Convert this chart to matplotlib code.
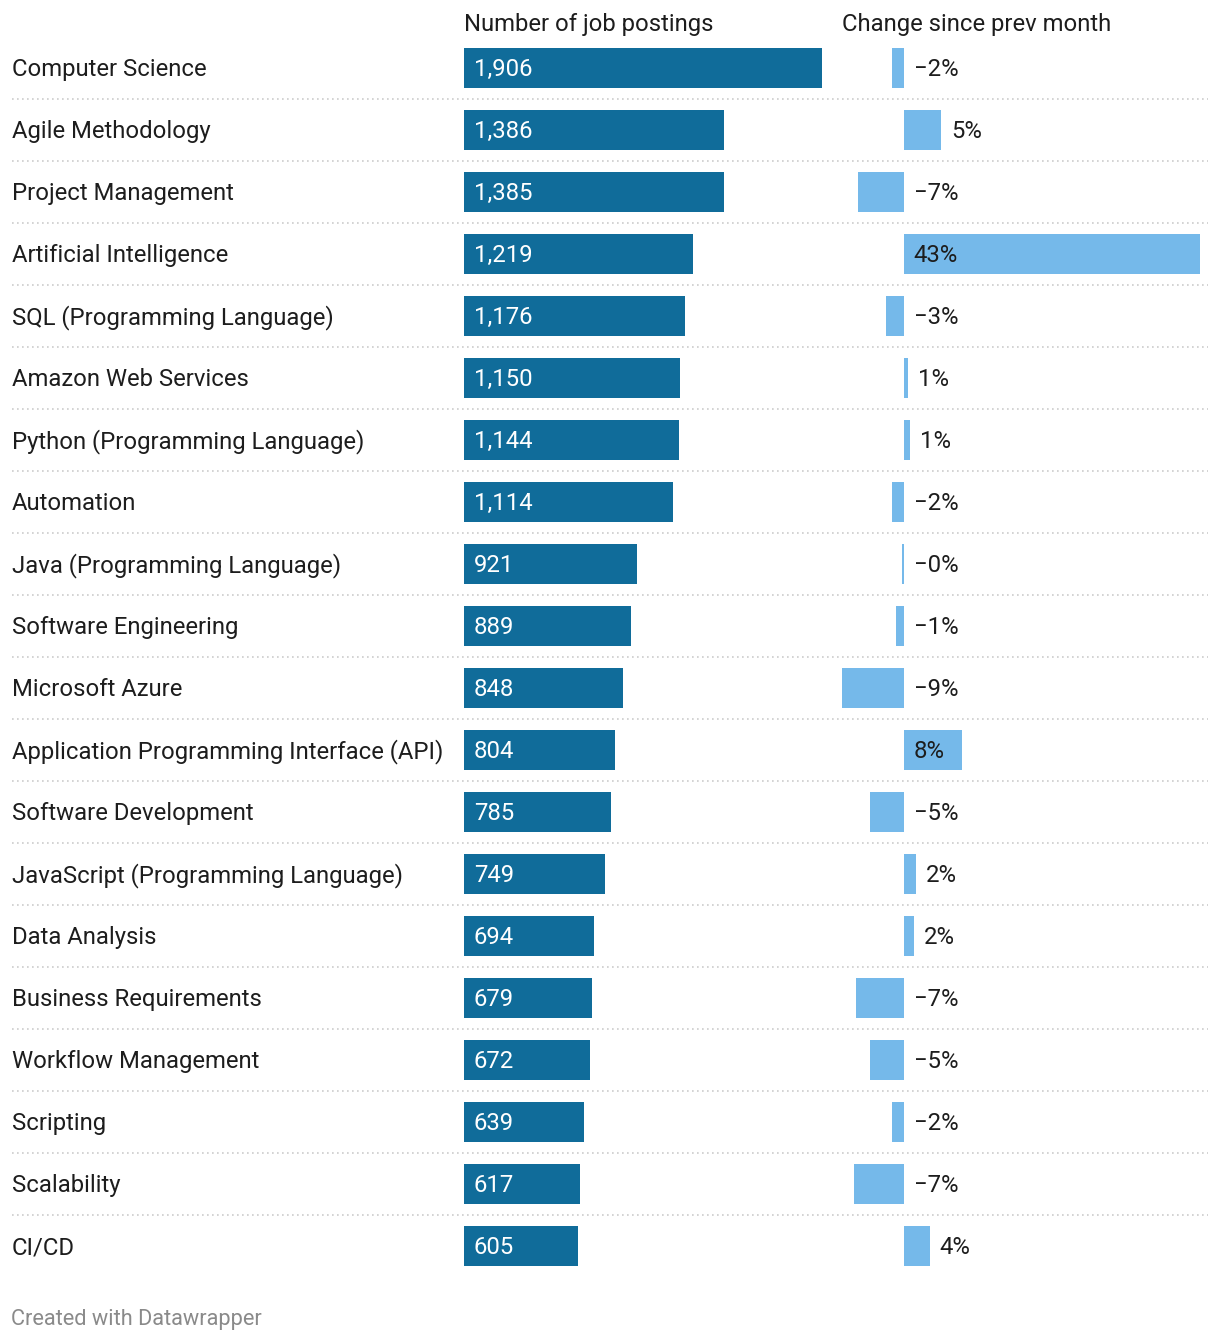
import matplotlib
matplotlib.use("Agg")
import matplotlib.pyplot as plt

plt.rcParams['font.family'] = ['Roboto', 'DejaVu Sans']

skills = ["Computer Science", "Agile Methodology", "Project Management",
          "Artificial Intelligence", "SQL (Programming Language)", "Amazon Web Services",
          "Python (Programming Language)", "Automation", "Java (Programming Language)",
          "Software Engineering", "Microsoft Azure", "Application Programming Interface (API)",
          "Software Development", "JavaScript (Programming Language)", "Data Analysis",
          "Business Requirements", "Workflow Management", "Scripting", "Scalability", "CI/CD"]
postings = [1906, 1386, 1385, 1219, 1176, 1150, 1144, 1114, 921, 889,
            848, 804, 785, 749, 694, 679, 672, 639, 617, 605]
change = [-1.7, 5.4, -6.7, 43.0, -2.6, 0.6, 0.9, -1.7, -0.3, -1.2,
          -9.0, 8.4, -4.9, 1.7, 1.5, -7.0, -4.9, -1.7, -7.3, 3.8]

DARK = "#106c9a"
LIGHT = "#75b9ea"
TXT = "#1d1d1d"
FS = 17.2

W, H = 1220, 1342
fig = plt.figure(figsize=(W / 100, H / 100), dpi=100)

n = len(skills)
row0, step = 68, 62
top = row0 - step / 2
bottom = row0 + step * (n - 0.5)
dy = 1.5  # small nudge so text sits like the reference


def px_axes(x0, x1):
    return fig.add_axes([x0 / W, 1 - bottom / H, (x1 - x0) / W, (bottom - top) / H])


# background axes in pixel coords for text + separators
bg = fig.add_axes([0, 0, 1, 1])
bg.set_xlim(0, W)
bg.set_ylim(H, 0)
bg.axis('off')

for i in range(n - 1):
    y = row0 + step * i + step / 2
    bg.plot([12, 1208], [y, y], color="#cccccc", lw=1.2, ls=(0, (1, 2)))

for i, s in enumerate(skills):
    bg.text(12, row0 + step * i + dy, s, fontsize=FS, color=TXT, va='center', ha='left')

bg.text(464, 25, "Number of job postings", fontsize=FS, color=TXT, va='center', ha='left')
bg.text(842, 25, "Change since prev month", fontsize=FS, color=TXT, va='center', ha='left')
bg.text(11, 1319, "Created with Datawrapper", fontsize=15.7, color="#8a8a8a", va='center', ha='left')

rows = list(range(n))
bh = 40 / step

# postings bars
ax1 = px_axes(464, 822)
ax1.barh(rows, postings, height=bh, color=DARK)
ax1.set_xlim(0, max(postings))
ax1.set_ylim(n - 0.5, -0.5)
ax1.axis('off')
for i, v in enumerate(postings):
    ax1.annotate(f"{v:,}", (0, i), xytext=(7.0, -dy * 0.72), textcoords='offset points',
                 fontsize=FS, color='white', va='center', ha='left')

# change bars
ax2 = px_axes(842, 1200)
ax2.barh(rows, change, height=bh, color=LIGHT)
ax2.set_xlim(min(change), max(change))
ax2.set_ylim(n - 0.5, -0.5)
ax2.axis('off')
for i, v in enumerate(change):
    lab = f"{v:.0f}%".replace("-", "\u2212")
    if v > 7:
        x = 0
    else:
        x = max(v, 0)
    ax2.annotate(lab, (x, i), xytext=(7.0, -dy * 0.72), textcoords='offset points',
                 fontsize=FS, color=TXT, va='center', ha='left')

fig.savefig("out.png", dpi=100)
